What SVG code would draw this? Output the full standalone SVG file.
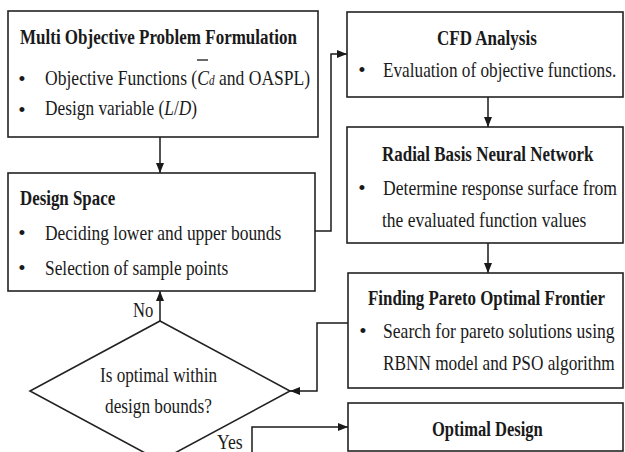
<svg xmlns="http://www.w3.org/2000/svg" width="625" height="452" viewBox="0 0 625 452">
<defs>
<marker id="ah" viewBox="0 0 10 8" refX="10" refY="4" markerWidth="10" markerHeight="8" markerUnits="userSpaceOnUse" orient="auto">
<path d="M0,0 L10,4 L0,8 Z" fill="#1a1a1a"/>
</marker>
<style>
rect.box, polygon.box { fill: #fff; stroke: #222; stroke-width: 1.6; }
text { font-family: 'Liberation Serif', 'DejaVu Serif', serif; font-size: 22px; fill: #1a1a1a; }
text.t { font-weight: bold; }
text.b { text-anchor: middle; font-size: 21px; }
.c { fill: none; stroke: #1a1a1a; stroke-width: 1.5; }
</style>
</defs>
<rect width="625" height="452" fill="#fff"/>

<g id="connectors">
<path class="c" d="M160,137 V173" marker-end="url(#ah)"/>
<path class="c" d="M315,231 H331 V54 H347" marker-end="url(#ah)"/>
<path class="c" d="M488,97 V127" marker-end="url(#ah)"/>
<path class="c" d="M488,243 V273" marker-end="url(#ah)"/>
<path class="c" d="M348,323 H317 V391 H290" marker-end="url(#ah)"/>
<path class="c" d="M160,321 V291" marker-end="url(#ah)"/>
<path class="c" d="M252,460 V427 H348" marker-end="url(#ah)"/>
<text transform="translate(133,317) scale(0.78,1)" textLength="26" lengthAdjust="spacingAndGlyphs">No</text>
<text transform="translate(217,449) scale(0.78,1)" textLength="33" lengthAdjust="spacingAndGlyphs">Yes</text>
</g>

<g id="formulation">
<rect class="box" x="8" y="11" width="310" height="126"/>
<text class="t" transform="translate(20,44) scale(0.78,1)" textLength="355" lengthAdjust="spacingAndGlyphs">Multi Objective Problem Formulation</text>
<text class="b" x="22" y="86">•</text>
<text transform="translate(45,85) scale(0.78,1)" textLength="340" lengthAdjust="spacingAndGlyphs">Objective Functions (<tspan font-style="italic">C</tspan><tspan font-style="italic" font-size="14">d</tspan> and OASPL)</text>
<line x1="197" y1="60" x2="208" y2="60" stroke="#1a1a1a" stroke-width="1.3"/>
<text class="b" x="22" y="117">•</text>
<text transform="translate(45,115) scale(0.78,1)" textLength="195" lengthAdjust="spacingAndGlyphs">Design variable (<tspan font-style="italic">L</tspan>/<tspan font-style="italic">D</tspan>)</text>
</g>

<g id="design-space">
<rect class="box" x="8" y="173" width="307" height="118"/>
<text class="t" transform="translate(20,205) scale(0.78,1)" textLength="122" lengthAdjust="spacingAndGlyphs">Design Space</text>
<text class="b" x="22" y="240">•</text>
<text transform="translate(45,240) scale(0.78,1)" textLength="303" lengthAdjust="spacingAndGlyphs">Deciding lower and upper bounds</text>
<text class="b" x="22" y="275">•</text>
<text transform="translate(45,275) scale(0.78,1)" textLength="235" lengthAdjust="spacingAndGlyphs">Selection of sample points</text>
</g>

<g id="cfd">
<rect class="box" x="347" y="12" width="276" height="85"/>
<text class="t" transform="translate(437,45) scale(0.78,1)" textLength="128" lengthAdjust="spacingAndGlyphs">CFD Analysis</text>
<text class="b" x="362" y="77">•</text>
<text transform="translate(383,77) scale(0.78,1)" textLength="299" lengthAdjust="spacingAndGlyphs">Evaluation of objective functions.</text>
</g>

<g id="rbnn">
<rect class="box" x="347" y="127" width="276" height="116"/>
<text class="t" transform="translate(382,161) scale(0.78,1)" textLength="271" lengthAdjust="spacingAndGlyphs">Radial Basis Neural Network</text>
<text class="b" x="362" y="195">•</text>
<text transform="translate(383,195) scale(0.78,1)" textLength="300" lengthAdjust="spacingAndGlyphs">Determine response surface from</text>
<text transform="translate(382,227) scale(0.78,1)" textLength="262" lengthAdjust="spacingAndGlyphs">the evaluated function values</text>
</g>

<g id="pareto">
<rect class="box" x="348" y="273" width="275" height="115"/>
<text class="t" transform="translate(368,305) scale(0.78,1)" textLength="304" lengthAdjust="spacingAndGlyphs">Finding Pareto Optimal Frontier</text>
<text class="b" x="363" y="338">•</text>
<text transform="translate(383,338) scale(0.78,1)" textLength="297" lengthAdjust="spacingAndGlyphs">Search for pareto solutions using</text>
<text transform="translate(383,370) scale(0.78,1)" textLength="297" lengthAdjust="spacingAndGlyphs">RBNN model and PSO algorithm</text>
</g>

<g id="decision">
<polygon class="box" points="160,321 290,391 160,461 30,391"/>
<text transform="translate(100,382) scale(0.78,1)" textLength="150" lengthAdjust="spacingAndGlyphs">Is optimal within</text>
<text transform="translate(105,413) scale(0.78,1)" textLength="137" lengthAdjust="spacingAndGlyphs">design bounds?</text>
</g>

<g id="optimal-design">
<rect class="box" x="348" y="403" width="275" height="48"/>
<text class="t" transform="translate(432,436) scale(0.78,1)" textLength="142" lengthAdjust="spacingAndGlyphs">Optimal Design</text>
</g>
</svg>
